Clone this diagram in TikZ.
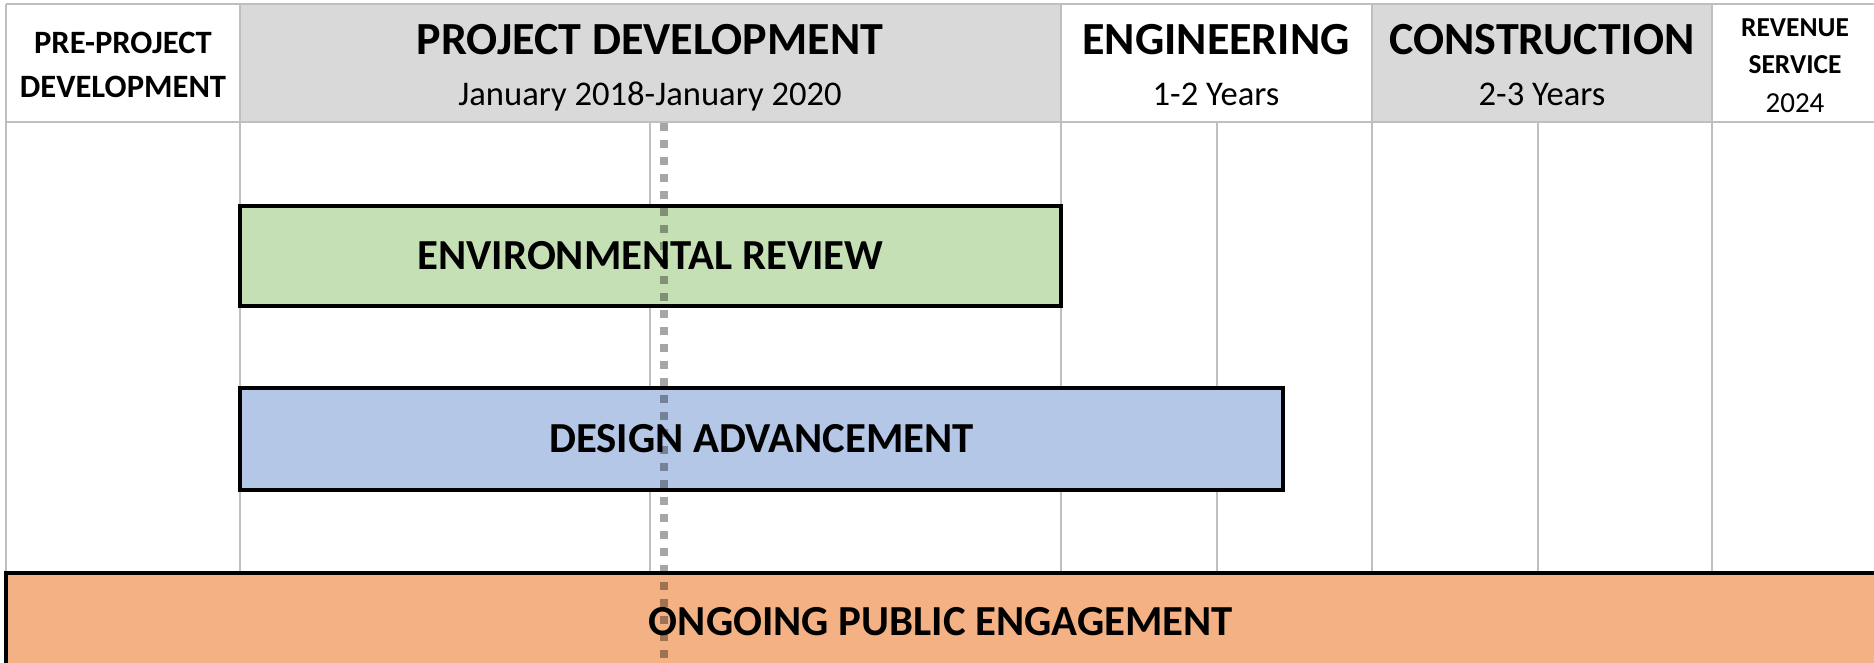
\documentclass[tikz,border=0pt]{standalone}
\usepackage{fontspec}
\setmainfont{Carlito}
\definecolor{gridgray}{HTML}{BFBFBF}
\definecolor{hdrgray}{HTML}{D9D9D9}
\definecolor{envgreen}{HTML}{C5E0B4}
\definecolor{desblue}{HTML}{B4C7E7}
\definecolor{engorange}{HTML}{F4B183}
\definecolor{dotgray}{HTML}{A6A6A6}
\begin{document}
\begin{tikzpicture}[x=1pt,y=-1pt,
  gridline/.style={draw=gridgray, line width=2.5pt},
  hbig/.style={anchor=base, inner sep=0pt, font=\fontsize{46}{50}\selectfont\bfseries},
  hsub/.style={anchor=base, inner sep=0pt, font=\fontsize{34.6}{40}\selectfont},
  hsmall/.style={anchor=base, inner sep=0pt, font=\fontsize{32.6}{40}\selectfont\bfseries},
  htiny/.style={anchor=base, inner sep=0pt, font=\fontsize{27.4}{30}\selectfont\bfseries},
  htinyreg/.style={anchor=base, inner sep=0pt, font=\fontsize{29}{30}\selectfont},
  bar/.style={draw=black, line width=3.2pt, inner sep=0pt, anchor=center,
    font=\fontsize{42.8}{46}\selectfont\bfseries},
  dotline/.style={draw=dotgray, line width=8.5pt, dash pattern=on 8pt off 9pt, blend mode=multiply}
]
\clip (0,0) rectangle (1874,663);
\fill[white] (0,0) rectangle (1874,663);
% header fills
\fill[hdrgray] (240,4) rectangle (1061,122);
\fill[hdrgray] (1372,4) rectangle (1712,122);
% header grid
\draw[gridline] (6,4) -- (1880,4);
\draw[gridline] (6,122) -- (1880,122);
\foreach \gx in {6,240,1061,1372,1712} {\draw[gridline] (\gx,4) -- (\gx,122);}
% body grid
\foreach \gx in {6,240,650,1061,1217,1372,1538,1712} {\draw[gridline] (\gx,122) -- (\gx,573);}
% header texts
\node[hsmall] (pre1) at (123,54) {PRE-PROJECT};
\node[hsmall] (pre2) at (123,98) {DEVELOPMENT};
\node[hbig] (pd) at (650,55) {PROJECT DEVELOPMENT};
\node[hsub] (pdd) at (650,106) {January 2018-January 2020};
\node[hbig] (eng) at (1216,55) {ENGINEERING};
\node[hsub] (engd) at (1216,106) {1-2 Years};
\node[hbig] (con) at (1542,55) {CONSTRUCTION};
\node[hsub] (cond) at (1542,106) {2-3 Years};
\node[htiny] (rev1) at (1795,37) {REVENUE};
\node[htiny] (rev2) at (1795,74) {SERVICE};
\node[htinyreg] (rev3) at (1795,113) {2024};
% bars
\node[bar, fill=envgreen, minimum width=821pt, minimum height=100pt] (env) at (650.5,256) {ENVIRONMENTAL REVIEW};
\node[bar, fill=desblue, minimum width=1043pt, minimum height=102pt] (des) at (761.5,439) {DESIGN ADVANCEMENT};
\node[bar, fill=engorange, minimum width=1870pt, minimum height=98pt] (ope) at (941,622) {ONGOING PUBLIC ENGAGEMENT};
% dotted today line
\coordinate (dtop) at (664,123);
\coordinate (dbot) at (664,670);
\draw[dotline] (dtop) -- (dbot);
\end{tikzpicture}
\end{document}
